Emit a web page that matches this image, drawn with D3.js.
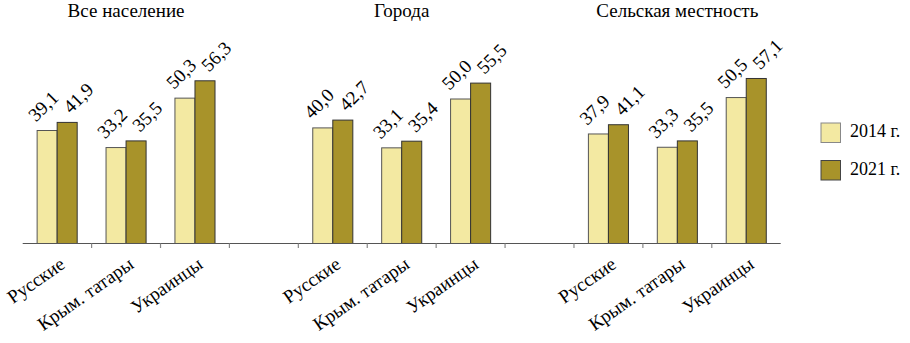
<!DOCTYPE html>
<html>
<head>
<meta charset="utf-8">
<script src="https://cdn.jsdelivr.net/npm/d3@7"></script>
<style>
  body { margin: 0; }
  #chart text { font-family: "Liberation Serif", "Times New Roman", Times !important; }
</style>
</head>
<body>
<svg id="chart" width="910" height="343" font-family="Liberation Serif"></svg>
<script>
// ---- data ----
const groups = ["Все население", "Города", "Сельская местность"];
const categories = ["Русские", "Крым. татары", "Украинцы"];
const seriesNames = ["2014 г.", "2021 г."];
const values2014 = [39.1, 33.2, 50.3, 40.0, 33.1, 50.0, 37.9, 33.3, 50.5];
const values2021 = [41.9, 35.5, 56.3, 42.7, 35.4, 55.5, 41.1, 35.5, 57.1];
const seriesColors = ["#F3E9A2", "#A8932A"];
const seriesStrokes = ["#555", "#333"];

// ---- layout ----
const svg = d3.select("#chart");
const baseY = 243.5;
const x0 = 22.7, x1 = 780.7;

const slots = [];
groups.forEach((g, gi) => {
  categories.forEach((c, ci) => slots.push({key: gi + "|" + ci, gi, ci}));
  if (gi < groups.length - 1) slots.push({key: "gap" + gi, gap: true});
});

const x = d3.scaleBand().domain(slots.map(s => s.key)).range([x0, x1]).padding(0);
const xs = d3.scaleBand().domain(seriesNames).range([0, x.bandwidth()]).paddingInner(0).paddingOuter(0.72);
const y = d3.scaleLinear().domain([0, 80]).range([baseY, baseY - 80 * 2.89]);

const fmt = d3.formatLocale({decimal: ",", thousands: " ", grouping: [3], currency: ["", ""]}).format(".1f");

const data = [];
groups.forEach((g, gi) => {
  categories.forEach((c, ci) => {
    const i = gi * categories.length + ci;
    [values2014[i], values2021[i]].forEach((v, si) => {
      data.push({key: gi + "|" + ci, series: seriesNames[si], si, value: v});
    });
  });
});

svg.append("g").selectAll("rect").data(data).join("rect")
  .attr("x", d => x(d.key) + xs(d.series))
  .attr("y", d => y(d.value))
  .attr("width", xs.bandwidth())
  .attr("height", d => y(0) - y(d.value))
  .attr("fill", d => seriesColors[d.si])
  .attr("stroke", d => seriesStrokes[d.si])
  .attr("stroke-width", 1);

svg.append("line")
  .attr("x1", x0).attr("x2", x1).attr("y1", baseY).attr("y2", baseY)
  .attr("stroke", "#555").attr("stroke-width", 1.2);

const bounds = slots.slice(1).map(s => x(s.key));
svg.append("g").selectAll("line").data(bounds).join("line")
  .attr("x1", d => d).attr("x2", d => d)
  .attr("y1", baseY).attr("y2", baseY + 4.5)
  .attr("stroke", "#888").attr("stroke-width", 1.2);

function serif(sel, size) {
  return sel.attr("font-size", size).attr("font-family", "Liberation Serif").style("font-family", '"Liberation Serif"');
}

const labOff = [-4, 11];
serif(svg.append("g").selectAll("text").data(data).join("text")
  .attr("transform", d => {
    const cx = x(d.key) + xs(d.series) + xs.bandwidth() / 2 + labOff[d.si];
    const cy = y(d.value) - 24.5;
    return `translate(${cx},${cy}) rotate(-45)`;
  })
  .attr("text-anchor", "middle")
  .attr("dy", "0.35em"), 19)
  .text(d => fmt(d.value));

serif(svg.append("g").selectAll("text").data(slots.filter(s => !s.gap)).join("text")
  .attr("transform", d => `translate(${x(d.key) + x.bandwidth() / 2 + 9},${267}) rotate(-35)`)
  .attr("text-anchor", "end"), 19)
  .text(d => categories[d.ci]);

serif(svg.append("g").selectAll("text").data(groups).join("text")
  .attr("x", (g, gi) => (x(gi + "|0") + x(gi + "|2") + x.bandwidth()) / 2)
  .attr("y", 16.7)
  .attr("text-anchor", "middle"), 19)
  .text(g => g);

const leg = svg.append("g").selectAll("g").data(seriesNames).join("g")
  .attr("transform", (d, i) => `translate(821,${123 + i * 37.5})`);
leg.append("rect").attr("width", 19.5).attr("height", 19.5)
  .attr("fill", (d, i) => seriesColors[i])
  .attr("stroke", (d, i) => i === 0 ? "#888" : "#444").attr("stroke-width", 1);
serif(leg.append("text").attr("x", 29).attr("y", 14), 18)
  .text(d => d);
</script>
</body>
</html>
